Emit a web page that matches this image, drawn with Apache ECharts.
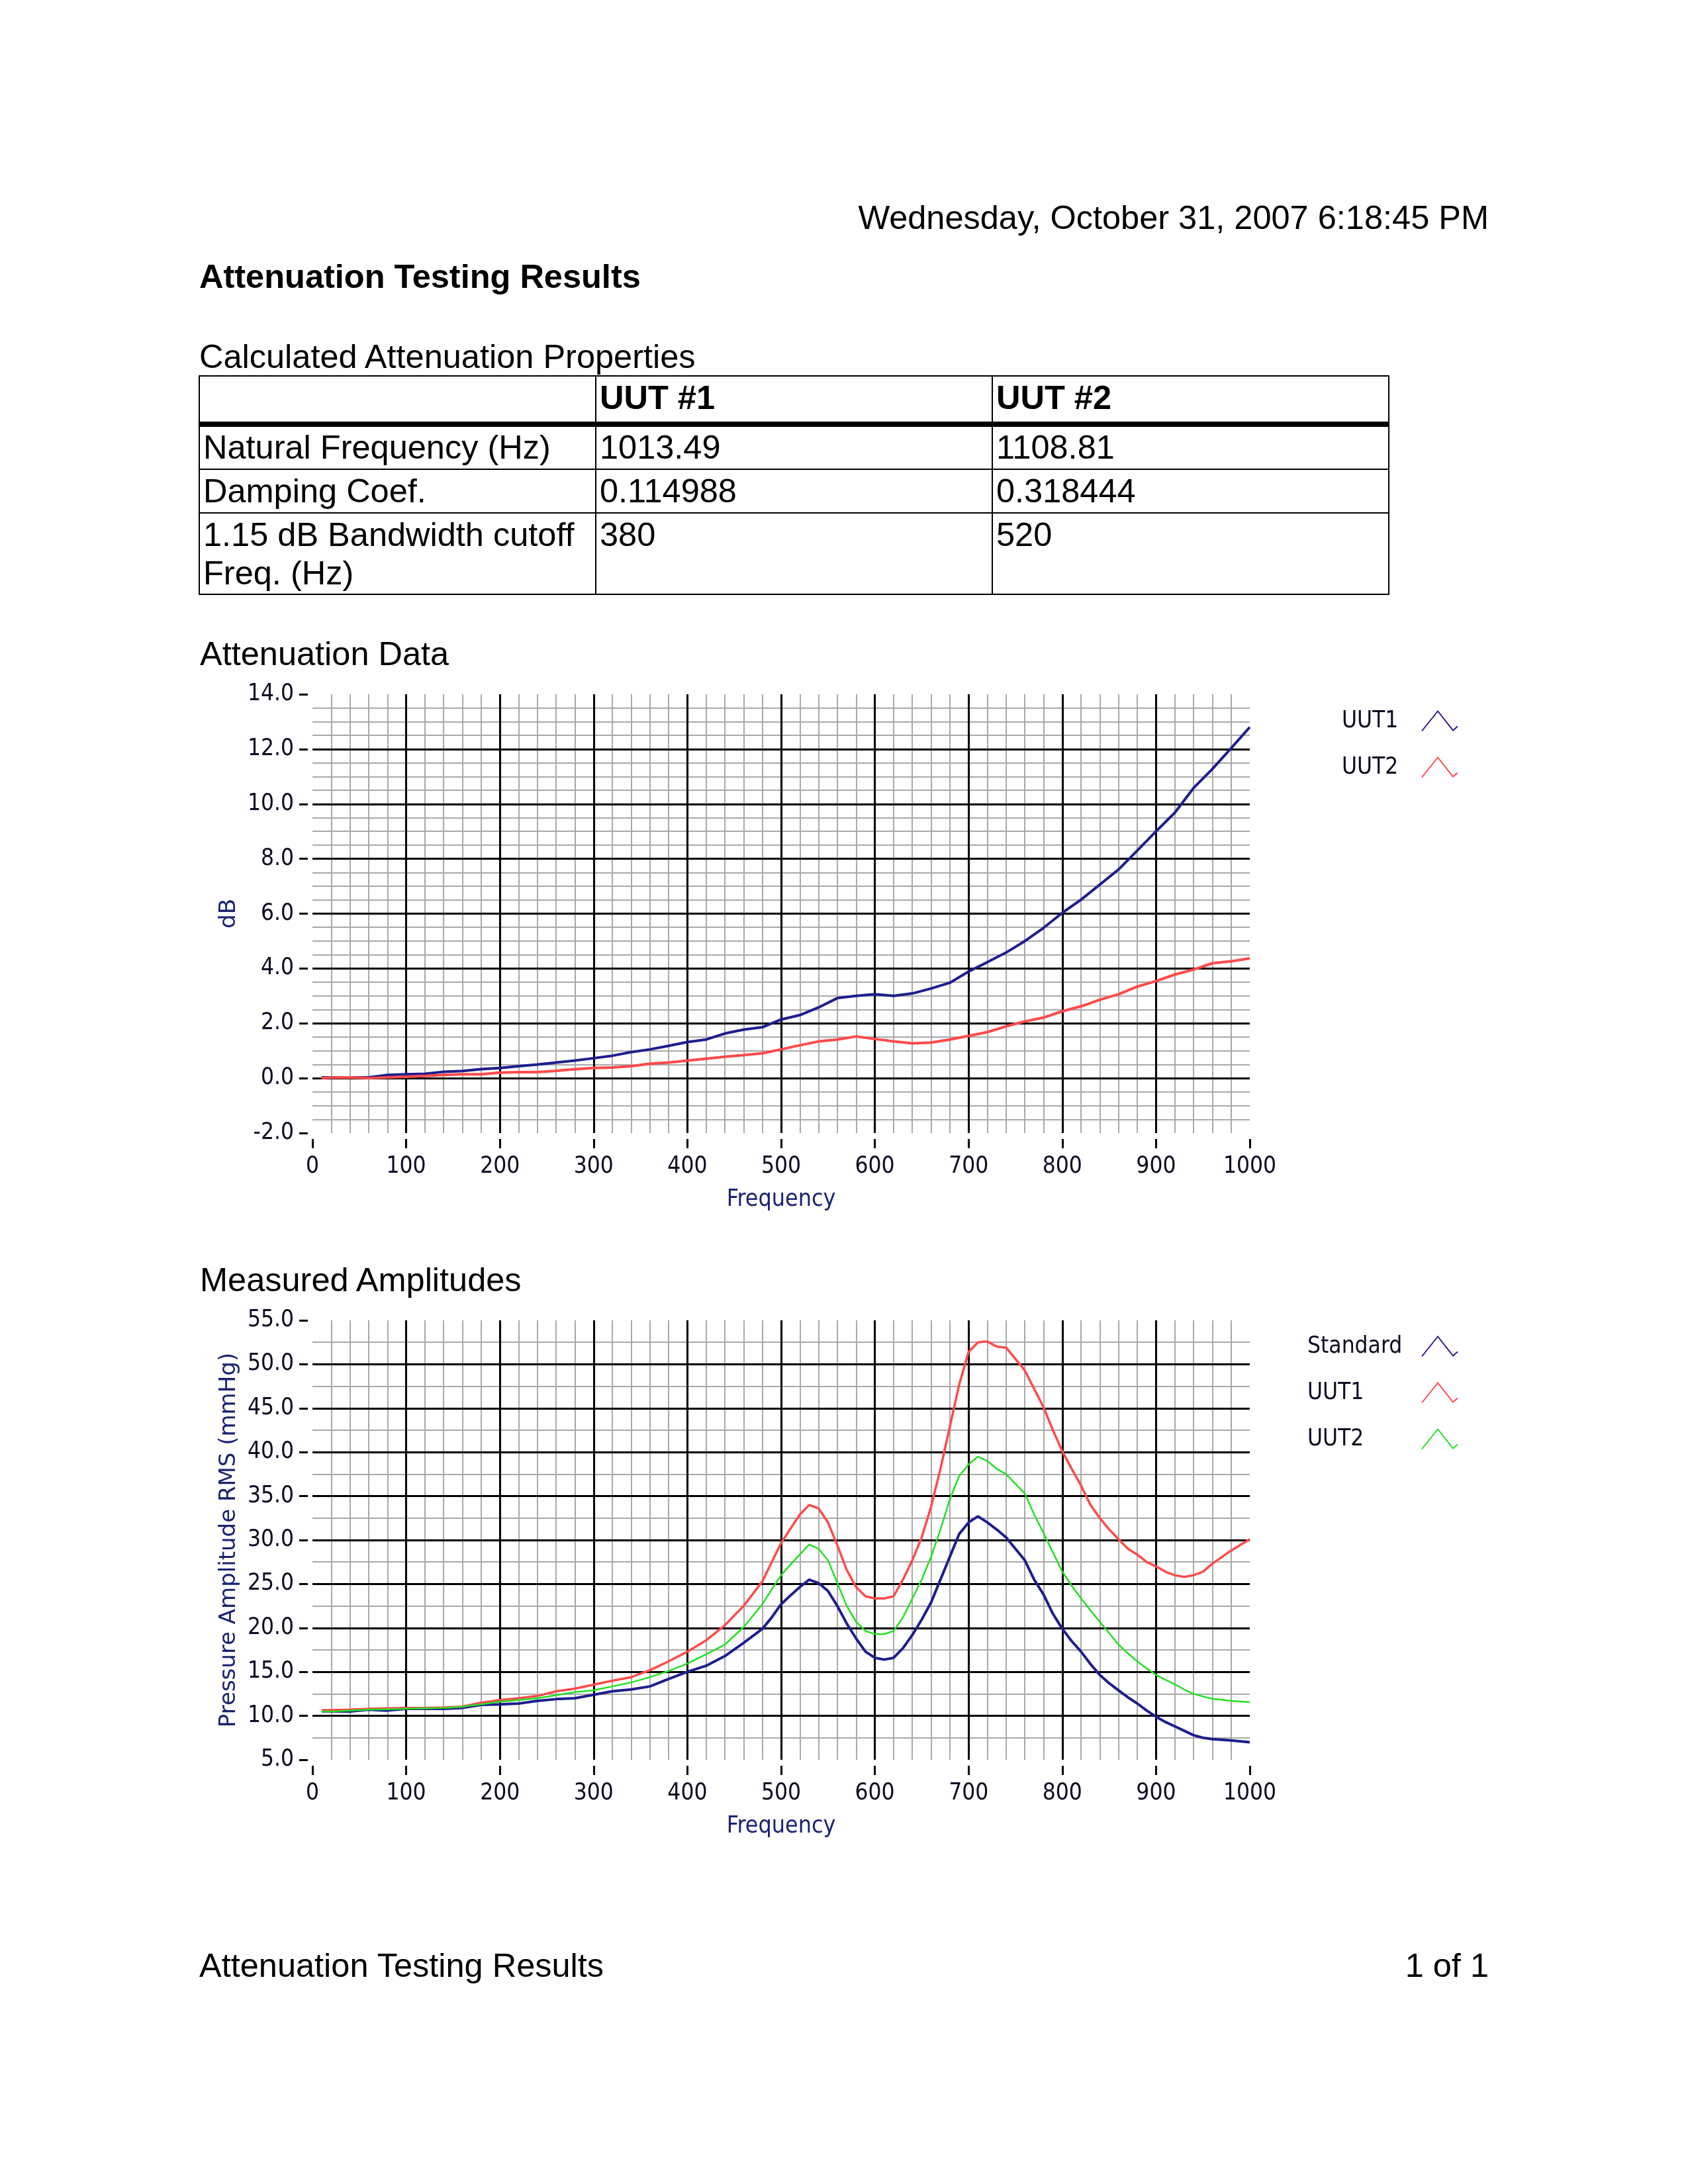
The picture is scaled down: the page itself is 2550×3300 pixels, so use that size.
<!DOCTYPE html>
<html><head><meta charset="utf-8">
<script src="https://cdn.jsdelivr.net/npm/echarts@6/dist/echarts.min.js"></script>
<style>
html,body{margin:0;padding:0;background:#fff;}
#page{position:relative;width:2550px;height:3300px;overflow:hidden;background:#fff;}
#chart{position:absolute;left:0;top:0;width:2550px;height:3300px;}
.t{position:absolute;font-family:'Liberation Sans',Arial,sans-serif;font-size:50.5px;line-height:50px;color:#000;white-space:nowrap;}
.b{font-weight:bold;}
.ln{position:absolute;background:#000;}
</style></head>
<body><div id="page"><div id="chart"></div></div>
<script>
// ---------- data ----------
const freqAtt = [10,20,40,60,80,100,120,140,160,180,200,220,240,260,280,300,320,340,360,380,400,420,440,460,480,500,520,540,560,580,600,620,640,660,680,700,720,740,760,780,800,820,840,860,880,900,920,940,960,980,1000];
const attUUT1 = [0.03,0.03,0.03,0.03,0.12,0.14,0.16,0.23,0.26,0.33,0.37,0.44,0.50,0.57,0.64,0.73,0.82,0.95,1.05,1.18,1.32,1.41,1.63,1.77,1.86,2.14,2.30,2.58,2.92,3.00,3.06,3.00,3.09,3.27,3.48,3.89,4.23,4.58,5.00,5.48,6.03,6.51,7.06,7.61,8.30,9.00,9.68,10.58,11.27,12.03,12.80];
const attUUT2 = [0.00,0.02,0.03,0.00,0.03,0.05,0.08,0.12,0.14,0.14,0.20,0.22,0.22,0.27,0.33,0.37,0.39,0.44,0.53,0.57,0.64,0.71,0.78,0.84,0.91,1.05,1.20,1.34,1.41,1.52,1.43,1.34,1.27,1.30,1.41,1.54,1.68,1.89,2.07,2.21,2.44,2.62,2.86,3.06,3.34,3.54,3.78,3.96,4.19,4.26,4.37];

const freqAmp = [10,20,40,60,80,100,120,140,160,180,200,220,240,260,280,300,320,340,360,380,400,420,440,460,480,490,500,510,520,530,540,550,560,570,580,590,600,610,620,630,640,650,660,670,680,690,700,710,720,730,740,750,760,770,780,790,800,810,820,830,840,850,860,870,880,890,900,910,920,930,940,950,960,980,1000];
const ampStandard = [10.52,10.52,10.5,10.7,10.6, 10.8,10.8,10.8,10.9,11.25, 11.3,11.4,11.7,11.9,12.0, 12.4,12.8,13.0,13.35,14.2, 15.0,15.7,16.8,18.3,19.9, 21.2,
  22.7,23.7,24.65,25.5,25.1,24.2,22.5,20.5,18.8,17.3,
  16.6,16.4,16.6,17.7,19.2,20.95,22.9,25.5,28.1,30.7,
  32.0,32.7,32.0,31.2,30.3,29.0,27.7,25.5,23.8,21.6,
  19.9,18.5,17.3,15.9,14.65,13.7,12.9,12.1,11.4,10.6,
  9.9,9.3,8.8,8.3,7.8,7.5,7.35, 7.2,7.0];
const ampUUT1 = [10.65,10.65,10.7,10.8,10.85, 10.9,10.9,10.95,11.05,11.5, 11.8,12.0,12.26,12.8,13.1, 13.55,14.0,14.4,15.2,16.2, 17.3,18.6,20.3,22.5,25.3, 27.5,
  29.65,31.3,32.9,34.0,33.6,32.0,29.4,26.6,24.65,23.6,
  23.35,23.35,23.6,25.5,27.7,30.3,33.8,38.1,42.9,47.7,
  51.4,52.5,52.6,52.0,51.9,50.6,49.3,47.2,45.1,42.5,
  40.1,38.1,36.2,34.0,32.5,31.2,30.1,29.0,28.35,27.5,
  27.0,26.4,26.0,25.8,26.0,26.4,27.3, 28.8,30.1];
const ampUUT2 = [10.5,10.5,10.6,10.7,10.75, 10.8,10.85,10.9,11.05,11.3, 11.6,11.8,12.0,12.35,12.7, 12.9,13.35,13.8,14.4,15.1, 15.95,17.0,18.1,20.1,22.7, 24.4,
  26.0,27.2,28.35,29.5,29.0,27.7,25.1,22.5,20.7,19.65,
  19.3,19.3,19.65,21.2,23.35,25.5,28.1,31.2,34.65,37.3,
  38.6,39.5,39.0,38.1,37.5,36.4,35.3,32.9,30.8,28.6,
  26.4,24.8,23.35,22.0,20.7,19.4,18.1,17.1,16.2,15.4,
  14.65,14.1,13.6,13.0,12.5,12.2,11.95, 11.7,11.55];

const tableHeader = ['', 'UUT #1', 'UUT #2'];
const tableRows = [
  ['Natural Frequency (Hz)', '1013.49', '1108.81'],
  ['Damping Coef.', '0.114988', '0.318444'],
  ['1.15 dB Bandwidth cutoff\nFreq. (Hz)', '380', '520']
];

// ---------- page text (HTML) ----------
const page = document.getElementById('page');
const ASC = 42.6; // baseline offset for Liberation Sans with 50px line-height
function txt(s, x, baseline, opt) {
  opt = opt || {};
  const d = document.createElement('div');
  d.className = 't' + (opt.bold ? ' b' : '');
  d.textContent = s;
  d.style.top = (baseline - ASC) + 'px';
  if (opt.right !== undefined) { d.style.right = (2550 - opt.right) + 'px'; d.style.textAlign = 'right'; }
  else d.style.left = x + 'px';
  page.appendChild(d);
}
function line(x, y, w, h) {
  const d = document.createElement('div');
  d.className = 'ln';
  d.style.left = x + 'px'; d.style.top = y + 'px'; d.style.width = w + 'px'; d.style.height = h + 'px';
  page.appendChild(d);
}
txt('Wednesday, October 31, 2007 6:18:45 PM', 0, 347, {right: 2249});
txt('Attenuation Testing Results', 301, 436, {bold: true});
txt('Calculated Attenuation Properties', 301, 557);
// table
const colX = [301, 900, 1499, 2098];
const tTop = 568, tBot = 898;
line(301, tTop - 1, 1798, 2);
line(301, 637, 1798, 8);
line(301, 708, 1798, 2);
line(301, 774, 1798, 2);
line(301, tBot - 1, 1798, 2);
colX.forEach(x => line(x - 1, tTop - 1, 2, tBot - tTop + 2));
tableHeader.forEach((h, i) => { if (h) txt(h, colX[i] + 6, 619, {bold: true}); });
const rowBase = [694, 760, 826];
tableRows.forEach((r, ri) => {
  r.forEach((c, ci) => {
    c.split('\n').forEach((part, li) => txt(part, colX[ci] + 6, rowBase[ri] + li * 58));
  });
});
txt('Attenuation Data', 302, 1006);
txt('Measured Amplitudes', 302, 1952);
txt('Attenuation Testing Results', 301, 2988);
txt('1 of 1', 0, 2988, {right: 2249});

// ---------- chart ----------
const FONT = "'DejaVu Sans Condensed','Noto Sans',sans-serif";
const FONT_WIDE = "'DejaVu Sans','Noto Sans',sans-serif";
const LABEL_COLOR = '#0c0c22';
const NAME_COLOR = '#1a2370';
const MAJOR = '#000000', MINOR = '#a9a9a9';
const BLUE = '#1e1e8e', RED = '#ff4a4a', GREEN = '#22e022';

const grids = [
  {left: 472, top: 1049, width: 1416, height: 663},
  {left: 472, top: 1995, width: 1416, height: 664}
];

function minorX(g) {
  return {gridIndex: g, type: 'value', position: 'bottom', min: 0, max: 1000, interval: 20, z: 0,
    axisLine: {show: false, onZero: false}, axisTick: {show: false}, axisLabel: {show: false},
    splitLine: {show: true, showMinLine: false, showMaxLine: false, lineStyle: {color: MINOR, width: 2}}};
}
function majorX(g) {
  return {gridIndex: g, type: 'value', position: 'bottom', min: 0, max: 1000, interval: 100, z: 1, offset: 9,
    axisLine: {show: false, onZero: false},
    axisTick: {show: true, length: 14, lineStyle: {color: '#000', width: 3}},
    axisLabel: {show: true, margin: 24, fontSize: 35, fontFamily: FONT, color: LABEL_COLOR,
      showMinLabel: true, showMaxLabel: true, formatter: v => String(v)},
    splitLine: {show: true, showMinLine: false, showMaxLine: false, lineStyle: {color: MAJOR, width: 3}},
    name: 'Frequency', nameLocation: 'middle', nameGap: 74,
    nameTextStyle: {fontSize: 35.5, fontFamily: FONT, color: NAME_COLOR}};
}
function minorY(g, min, max, step) {
  return {gridIndex: g, type: 'value', position: 'left', min: min, max: max, interval: step, z: 0,
    axisLine: {show: false, onZero: false}, axisTick: {show: false}, axisLabel: {show: false},
    splitLine: {show: true, showMinLine: false, showMaxLine: false, lineStyle: {color: MINOR, width: 2}}};
}
function majorY(g, min, max, step, name) {
  return {gridIndex: g, type: 'value', position: 'left', min: min, max: max, interval: step, z: 1, offset: 7,
    axisLine: {show: false, onZero: false},
    axisTick: {show: true, length: 13, lineStyle: {color: '#000', width: 3}},
    axisLabel: {show: true, margin: 21, fontSize: 35, fontFamily: FONT, color: LABEL_COLOR,
      showMinLabel: true, showMaxLabel: true, formatter: v => v.toFixed(1)},
    splitLine: {show: true, showMinLine: false, showMaxLine: false, lineStyle: {color: MAJOR, width: 3}},
    name: name, nameLocation: 'middle', nameGap: 102,
    nameTextStyle: {fontSize: 34, fontFamily: FONT_WIDE, color: NAME_COLOR}};
}

const pairs = (xs, ys) => xs.map((x, i) => [x, ys[i]]);
function lineSeries(name, xi, yi, data, color, width) {
  return {name: name, type: 'line', xAxisIndex: xi, yAxisIndex: yi, data: data, z: 5,
    symbol: 'none', showSymbol: false, animation: false, smooth: false,
    lineStyle: {color: color, width: width}, itemStyle: {color: color}};
}

const ICON = 'path://M0,30 L24,0 L47,29 L54,23';
const displayName = {'att-UUT1': 'UUT1', 'att-UUT2': 'UUT2', 'amp-Standard': 'Standard', 'amp-UUT1': 'UUT1', 'amp-UUT2': 'UUT2'};
function legend(left, top, textWidth, items) {
  return {orient: 'vertical', left: left, top: top, padding: 0, itemGap: 35, align: 'right',
    itemWidth: 54, itemHeight: 30, icon: ICON, selectedMode: false,
    itemStyle: {color: 'rgba(0,0,0,0)', borderWidth: 2},
    data: items.map(it => ({name: it[0], icon: ICON, itemStyle: {color: 'rgba(0,0,0,0)', borderColor: it[1], borderWidth: 2}})),
    formatter: n => '{t|' + displayName[n] + '}',
    textStyle: {rich: {t: {width: textWidth, align: 'left', fontSize: 35, fontFamily: FONT, color: LABEL_COLOR, lineHeight: 40}}}};
}

const option = {
  animation: false,
  backgroundColor: 'transparent',
  textStyle: {fontFamily: FONT},
  grid: grids.map(g => Object.assign({containLabel: false, outerBoundsMode: 'none'}, g)),
  xAxis: [minorX(0), majorX(0), minorX(1), majorX(1)],
  yAxis: [minorY(0, -2, 14, 0.5), majorY(0, -2, 14, 2, 'dB'), minorY(1, 5, 55, 2.5), majorY(1, 5, 55, 5, 'Pressure Amplitude RMS (mmHg)')],
  legend: [
    legend(2027, 1072, 116, [['att-UUT1', BLUE], ['att-UUT2', RED]]),
    legend(1975, 2017, 168, [['amp-Standard', BLUE], ['amp-UUT1', RED], ['amp-UUT2', GREEN]])
  ],
  series: [
    lineSeries('att-UUT1', 1, 1, pairs(freqAtt, attUUT1), BLUE, 4),
    lineSeries('att-UUT2', 1, 1, pairs(freqAtt, attUUT2), RED, 4),
    lineSeries('amp-Standard', 3, 3, pairs(freqAmp, ampStandard), BLUE, 4),
    lineSeries('amp-UUT1', 3, 3, pairs(freqAmp, ampUUT1), RED, 3.5),
    lineSeries('amp-UUT2', 3, 3, pairs(freqAmp, ampUUT2), GREEN, 2.5)
  ]
};
const chart = echarts.init(document.getElementById('chart'), null, {renderer: 'canvas', width: 2550, height: 3300});
chart.setOption(option);
</script>
</body></html>
